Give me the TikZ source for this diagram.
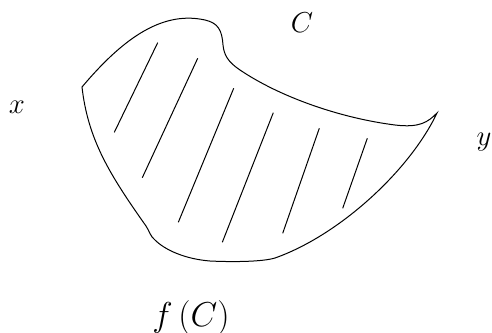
\documentclass[tikz,border=0pt]{standalone}
\usetikzlibrary{positioning}

\begin{document}
\begin{tikzpicture}[
  x=0.5pt,
  y=-0.5pt,
  outline/.style={draw=black, line width=0.5pt},
  hatch/.style={draw=black, line width=0.5pt},
  lbl/.style={font=\fontsize{15}{17}\selectfont, inner sep=0pt}
]
\useasboundingbox (0,0) rectangle (492,332);

% the region
\draw[outline] (82,87)
  .. controls (120,42) and (160,10) .. (205,20)
  .. controls (218,23) and (222,30) .. (223,45)
  .. controls (224,55) and (228,62) .. (240,70)
  .. controls (280,97) and (340,118) .. (395,125)
  .. controls (420,128) and (428,122) .. (437,113)
  .. controls (410,170) and (340,235) .. (275,258)
  .. controls (262,262) and (230,262) .. (210,261)
  .. controls (185,259) and (165,250) .. (155,240)
  .. controls (150,236) and (150,232) .. (146,226)
  .. controls (110,175) and (88,140) .. cycle;

% hatching
\draw[hatch] (157.7,42.7) -- (114.3,132.3);
\draw[hatch] (197.7,58.3) -- (142.3,177.7);
\draw[hatch] (233.7,88.3) -- (178.3,222.3);
\draw[hatch] (273.3,112.7) -- (222.3,242.3);
\draw[hatch] (319.3,128.3) -- (282.7,233.3);
\draw[hatch] (367.3,138.3) -- (342.7,208.3);

% labels
\node[lbl, font=\fontsize{14}{16}\selectfont] (curve) at (302,22.5) {$C$};
\node[lbl] (xpt) at (17,107.5) {$x$};
\node[lbl] (ypt) at (484,142) {$y$};
\node[lbl, font=\fontsize{17}{19}\selectfont] (image) at (191,318) {$f\,(C)$};
\end{tikzpicture}
\end{document}
